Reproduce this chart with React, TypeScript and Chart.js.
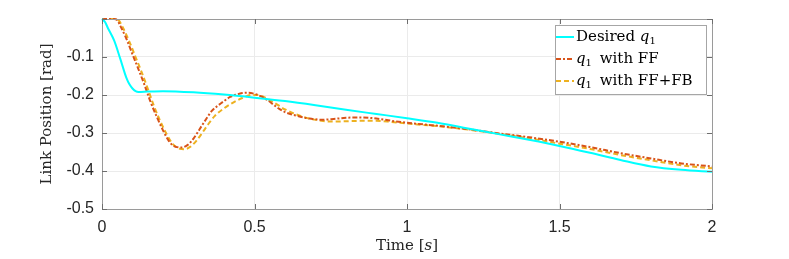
import React, { useEffect, useRef } from "react";
import { Chart, registerables } from "chart.js";

Chart.register(...registerables);

const tDesired = [0, 0.01, 0.02, 0.04, 0.06, 0.08, 0.09, 0.1, 0.11, 0.12, 0.15, 0.2, 0.3, 0.4, 0.5, 0.6, 0.7, 0.8, 0.9, 1.0, 1.1, 1.2, 1.3, 1.4, 1.5, 1.6, 1.7, 1.8, 1.9, 2.0];
const qDesired = [0, -0.008, -0.025, -0.057, -0.105, -0.155, -0.172, -0.183, -0.19, -0.192, -0.191, -0.19, -0.193, -0.199, -0.207, -0.216, -0.227, -0.239, -0.25, -0.261, -0.273, -0.288, -0.303, -0.318, -0.334, -0.352, -0.371, -0.388, -0.397, -0.402];

const tFF = [0, 0.02, 0.04, 0.05, 0.06, 0.08, 0.1, 0.12, 0.14, 0.16, 0.18, 0.2, 0.22, 0.24, 0.26, 0.28, 0.3, 0.32, 0.34, 0.36, 0.38, 0.4, 0.42, 0.44, 0.46, 0.48, 0.5, 0.52, 0.54, 0.56, 0.58, 0.6, 0.64, 0.68, 0.72, 0.76, 0.8, 0.85, 0.9, 0.95, 1.0, 1.1, 1.2, 1.3, 1.4, 1.5, 1.6, 1.7, 1.8, 1.9, 2.0];
const qFF = [0, 0, 0, -0.003, -0.018, -0.052, -0.093, -0.133, -0.175, -0.22, -0.258, -0.293, -0.322, -0.336, -0.338, -0.332, -0.315, -0.29, -0.265, -0.242, -0.228, -0.216, -0.205, -0.199, -0.195, -0.194, -0.197, -0.203, -0.212, -0.224, -0.236, -0.245, -0.255, -0.262, -0.265, -0.263, -0.26, -0.259, -0.262, -0.268, -0.273, -0.281, -0.29, -0.301, -0.311, -0.323, -0.337, -0.353, -0.367, -0.38, -0.388];

const tFFFB = [0, 0.02, 0.04, 0.055, 0.07, 0.09, 0.11, 0.13, 0.15, 0.17, 0.19, 0.21, 0.23, 0.25, 0.27, 0.29, 0.31, 0.33, 0.35, 0.37, 0.4, 0.43, 0.46, 0.49, 0.51, 0.53, 0.56, 0.6, 0.64, 0.68, 0.72, 0.76, 0.8, 0.85, 0.9, 0.95, 1.0, 1.1, 1.2, 1.3, 1.4, 1.5, 1.6, 1.7, 1.8, 1.9, 2.0];
const qFFFB = [0, 0, 0, -0.004, -0.025, -0.06, -0.1, -0.14, -0.183, -0.228, -0.267, -0.3, -0.327, -0.34, -0.343, -0.336, -0.32, -0.298, -0.275, -0.255, -0.235, -0.22, -0.208, -0.2, -0.2, -0.205, -0.218, -0.238, -0.252, -0.262, -0.268, -0.27, -0.269, -0.268, -0.268, -0.271, -0.275, -0.282, -0.291, -0.302, -0.314, -0.328, -0.342, -0.358, -0.372, -0.385, -0.393];

const xTicks = [0, 0.5, 1, 1.5, 2];
const xTickLabels = ["0", "0.5", "1", "1.5", "2"];
const yTicks = [-0.5, -0.4, -0.3, -0.2, -0.1, 0];
const yTickLabels = ["-0.5", "-0.4", "-0.3", "-0.2", "-0.1", ""];

const seriesNames = ["Desired", "with FF", "with FF+FB"];
const COLORS = ["#00FFFF", "#D95319", "#EDB120"];
const SERIF = "'DejaVu Serif', 'Liberation Serif', serif";
const SANS = "'Liberation Sans', Arial, sans-serif";

function toPts(t: number[], q: number[]) {
  return t.map((x, i) => ({ x, y: q[i] }));
}

function findIdx(arr: number[], v: number) {
  for (let i = 0; i < arr.length; i++) if (Math.abs(arr[i] - v) < 1e-9) return i;
  return -1;
}

const decorPlugin = {
  id: "matlabDecor",
  afterDraw(chart: any) {
    const { ctx, chartArea } = chart;
    const { left, right, top, bottom } = chartArea;
    const xs = chart.scales.x;
    const ys = chart.scales.y;
    ctx.save();
    // box
    ctx.strokeStyle = "#9a9a9a";
    ctx.lineWidth = 1;
    ctx.strokeRect(Math.round(left) + 0.5, Math.round(top) + 0.5, Math.round(right - left), Math.round(bottom - top));
    // inner ticks
    const tl = 5;
    ctx.strokeStyle = "#6e6e6e";
    ctx.beginPath();
    xTicks.forEach((v) => {
      const px = Math.round(xs.getPixelForValue(v)) + 0.5;
      ctx.moveTo(px, bottom);
      ctx.lineTo(px, bottom - tl);
      ctx.moveTo(px, top);
      ctx.lineTo(px, top + tl);
    });
    yTicks.forEach((v) => {
      const py = Math.round(ys.getPixelForValue(v)) + 0.5;
      ctx.moveTo(left, py);
      ctx.lineTo(left + tl, py);
      ctx.moveTo(right, py);
      ctx.lineTo(right - tl, py);
    });
    ctx.stroke();

    // axis titles
    ctx.fillStyle = "#262626";
    ctx.textBaseline = "middle";
    const cx = (left + right) / 2;
    const t1 = "Time [";
    const t2 = "s";
    const t3 = "]";
    ctx.font = `15px ${SERIF}`;
    const w1 = ctx.measureText(t1).width;
    const w3 = ctx.measureText(t3).width;
    ctx.font = `italic 15px ${SERIF}`;
    const w2 = ctx.measureText(t2).width;
    let sx = cx - (w1 + w2 + w3) / 2;
    const ty = 246;
    ctx.textAlign = "left";
    ctx.font = `15px ${SERIF}`;
    ctx.fillText(t1, sx, ty);
    sx += w1;
    ctx.font = `italic 15px ${SERIF}`;
    ctx.fillText(t2, sx, ty);
    sx += w2;
    ctx.font = `15px ${SERIF}`;
    ctx.fillText(t3, sx, ty);

    ctx.save();
    ctx.translate(47, (top + bottom) / 2);
    ctx.rotate(-Math.PI / 2);
    ctx.textAlign = "center";
    ctx.font = `15px ${SERIF}`;
    ctx.fillText("Link Position [rad]", 0, 0);
    ctx.restore();

    // legend
    const lx = 555, ly = 25, lw = 151, lh = 69;
    ctx.fillStyle = "#ffffff";
    ctx.fillRect(lx, ly, lw, lh);
    ctx.strokeStyle = "#a6a6a6";
    ctx.lineWidth = 1;
    ctx.strokeRect(lx + 0.5, ly + 0.5, lw, lh);
    const rows = [37, 59, 81];
    const dashes = [[], [5, 2, 2, 2], [5, 3]];
    rows.forEach((ry, i) => {
      ctx.strokeStyle = COLORS[i];
      ctx.lineWidth = 2;
      ctx.setLineDash(dashes[i]);
      ctx.beginPath();
      ctx.moveTo(lx + 1, ry);
      ctx.lineTo(lx + 19, ry);
      ctx.stroke();
      ctx.setLineDash([]);
      ctx.fillStyle = "#000000";
      ctx.textAlign = "left";
      ctx.textBaseline = "middle";
      let x = lx + 21;
      const drawQ = () => {
        ctx.font = `italic 15px ${SERIF}`;
        ctx.fillText("q", x, ry);
        x += ctx.measureText("q").width;
        ctx.font = `10px ${SERIF}`;
        ctx.fillText("1", x, ry + 4);
        x += ctx.measureText("1").width;
      };
      if (i === 0) {
        ctx.font = `15px ${SERIF}`;
        const s = seriesNames[0] + " ";
        ctx.fillText(s, x, ry);
        x += ctx.measureText(s).width;
        drawQ();
      } else {
        drawQ();
        ctx.font = `15px ${SERIF}`;
        ctx.fillText(" " + seriesNames[i], x + 3, ry);
      }
    });
    ctx.restore();
  },
};

export default function App() {
  const ref = useRef<HTMLCanvasElement | null>(null);
  useEffect(() => {
    if (!ref.current) return;
    const chart = new Chart(ref.current, {
      type: "line",
      data: {
        datasets: [
          { label: "Desired q1", data: toPts(tDesired, qDesired), borderColor: COLORS[0], borderWidth: 2, pointRadius: 0, cubicInterpolationMode: "monotone", fill: false, clip: false },
          { label: "q1 with FF", data: toPts(tFF, qFF), borderColor: COLORS[1], borderWidth: 2, borderDash: [5, 2, 2, 2], pointRadius: 0, cubicInterpolationMode: "monotone", fill: false, clip: false },
          { label: "q1 with FF+FB", data: toPts(tFFFB, qFFFB), borderColor: COLORS[2], borderWidth: 2, borderDash: [5, 3], pointRadius: 0, cubicInterpolationMode: "monotone", fill: false, clip: false },
        ],
      },
      options: {
        animation: false,
        responsive: true,
        maintainAspectRatio: false,
        layout: { padding: { left: 0, right: 77, top: 19, bottom: 0 } },
        plugins: { legend: { display: false }, tooltip: { enabled: false } },
        scales: {
          x: {
            type: "linear",
            min: 0,
            max: 2,
            afterBuildTicks: (s: any) => { s.ticks = xTicks.map((v) => ({ value: v })); },
            afterFit: (s: any) => { s.height = 50; },
            ticks: {
              padding: 9,
              color: "#262626",
              font: { family: SANS, size: 16 },
              maxRotation: 0,
              callback: (v: any) => { const i = findIdx(xTicks, Number(v)); return i >= 0 ? xTickLabels[i] : ""; },
            },
            grid: { color: "#ebebeb", drawTicks: false },
            border: { display: false },
          },
          y: {
            type: "linear",
            min: -0.5,
            max: 0,
            afterBuildTicks: (s: any) => { s.ticks = yTicks.map((v) => ({ value: v })); },
            afterFit: (s: any) => { s.width = 102; },
            ticks: {
              padding: 8,
              color: "#262626",
              font: { family: SANS, size: 16 },
              callback: (v: any) => { const i = findIdx(yTicks, Number(v)); return i >= 0 ? yTickLabels[i] : ""; },
            },
            grid: { color: "#ebebeb", drawTicks: false },
            border: { display: false },
          },
        },
      },
      plugins: [decorPlugin],
    });
    return () => chart.destroy();
  }, []);
  return (
    <div style={{ position: "fixed", left: 0, top: 0, width: 789, height: 259, background: "#fff" }}>
      <canvas ref={ref} />
    </div>
  );
}
